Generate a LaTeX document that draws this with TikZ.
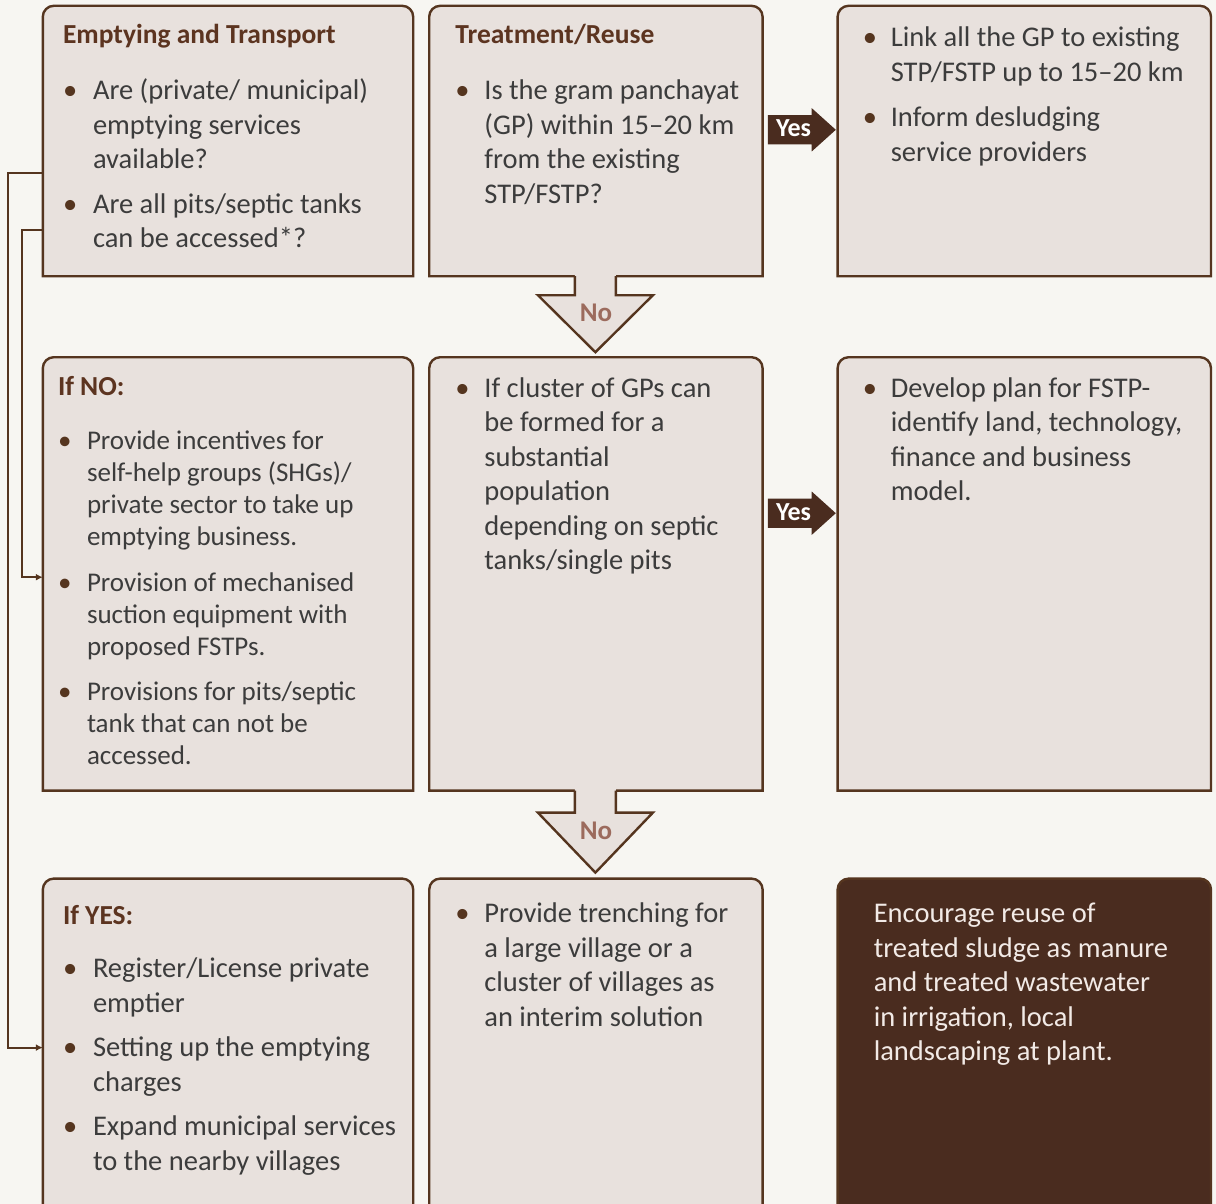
\documentclass[tikz,border=0pt]{standalone}
\usepackage{fontspec}
\setmainfont{Carlito}
\usepackage{xcolor}
\definecolor{PageBg}{HTML}{F7F6F2}
\definecolor{PanelFill}{HTML}{E8E1DD}
\definecolor{FrameBrown}{HTML}{55351F}
\definecolor{DarkBrown}{HTML}{4A2C1F}
\definecolor{TitleBrown}{HTML}{5C3420}
\definecolor{NoBrown}{HTML}{9C6B5D}
\definecolor{BodyGrey}{HTML}{3C3C3C}
\definecolor{PaleText}{HTML}{F2EAE6}
\usetikzlibrary{shapes.arrows, arrows.meta, positioning, calc}
\tikzset{
  % Panel styles
  panel/.style={rectangle, inner sep=0pt},
  panelline/.style={draw=FrameBrown, line width=2.4pt},
  % Text styles
  titletext/.style={anchor=base west, inner sep=0pt, text=TitleBrown, font=\bfseries\fontsize{27.5}{33}\selectfont},
  bodytext/.style={anchor=base west, inner sep=0pt, text=BodyGrey, font=\fontsize{28.5}{34.5}\selectfont},
  notext/.style={inner sep=0pt, text=NoBrown, font=\bfseries\fontsize{27}{27}\selectfont},
  % Arrow styles
  yesarrow/.style={single arrow, fill=DarkBrown, text=white, anchor=tail, font=\bfseries\fontsize{26}{26}\selectfont, minimum height=68pt, single arrow head extend=7pt, single arrow tip angle=84, inner xsep=3pt, inner ysep=4.5pt, text height=17pt, text depth=3pt},
  link/.style={draw=FrameBrown, line width=2pt}
}
\newcommand{\bpt}{\textcolor{FrameBrown}{\textbullet}}
% outline with rounded top corners only
\newcommand{\panelframe}[2][PanelFill]{%
  \draw[panelline, fill=#1] (#2.south west) [rounded corners=11pt] -- (#2.north west) -- (#2.north east) [sharp corners] -- (#2.south east) -- cycle;}
% block arrow hanging under a panel
\newcommand{\noarrow}[4]{%
  \coordinate (#2) at (#1.south);
  \fill[PanelFill] ([xshift=-21pt,yshift=2pt]#2) -- ++(0,-#3-2) -- ++(-37,0) -- ++(57.5,-#4) -- ++(57.5,#4) -- ++(-37,0) -- ++(0,#3+2) -- cycle;
  \draw[panelline, line join=miter] ([xshift=-21pt]#2) -- ++(0,-#3) -- ++(-37,0) -- ++(57.5,-#4) -- ++(57.5,#4) -- ++(-37,0) -- ++(0,#3);
  \node[notext] (#2-lbl) at ([yshift=-#3-18]#2) {No};}

\begin{document}
\begin{tikzpicture}[x=1pt, y=1pt]
  \useasboundingbox[fill=PageBg] (0,0) rectangle (1216,-1204);

  % Panels
  \node[panel, minimum width=370pt, minimum height=270pt] (et) at (228,-141) {};
  \node[panel, right=16pt of et, minimum width=333pt, minimum height=270pt] (tr) {};
  \node[panel, right=75pt of tr, minimum width=373pt, minimum height=270pt] (lk) {};
  \node[panel, below=81pt of et, minimum width=370pt, minimum height=433pt] (ifno) {};
  \node[panel, below=81pt of tr, minimum width=333pt, minimum height=433pt] (cl) {};
  \node[panel, below=81pt of lk, minimum width=373pt, minimum height=433pt] (pl) {};
  \node[panel, below=88pt of ifno, minimum width=370pt, minimum height=345pt] (ifyes) {};
  \node[panel, below=88pt of cl, minimum width=333pt, minimum height=345pt] (tc) {};
  \node[panel, below=88pt of pl, minimum width=373pt, minimum height=345pt] (ru) {};

  \panelframe{et}
  \panelframe{tr}
  \panelframe{lk}
  \panelframe{ifno}
  \panelframe{cl}
  \panelframe{pl}
  \panelframe{ifyes}
  \panelframe{tc}
  \panelframe[DarkBrown]{ru}

  % Texts
  \node[titletext] (et-t) at ([shift={(20,-37.5)}]et.north west) {Emptying and Transport};
  \node[bodytext] (et-b) at ([shift={(20,-94)}]et.north west) {\begin{tabular}[t]{@{}p{30pt}@{}l@{}}
    \bpt & Are (private/ municipal)\\ & emptying services\\ & available?\\[10pt]
    \bpt & Are all pits/septic tanks\\ & can be accessed*?
  \end{tabular}};

  \node[titletext] (tr-t) at ([shift={(26,-37.5)}]tr.north west) {Treatment/Reuse};
  \node[bodytext] (tr-b) at ([shift={(26,-94)}]tr.north west) {\begin{tabular}[t]{@{}p{29pt}@{}l@{}}
    \bpt & Is the gram panchayat\\ & (GP) within 15--20 km\\ & from the existing\\ & STP/FSTP?
  \end{tabular}};

  \node[bodytext] (lk-b) at ([shift={(25,-41)}]lk.north west) {\begin{tabular}[t]{@{}p{28pt}@{}l@{}}
    \bpt & Link all the GP to existing\\ & STP/FSTP up to 15--20 km\\[11pt]
    \bpt & Inform desludging\\ & service providers
  \end{tabular}};

  \node[titletext] (ifno-t) at ([shift={(15,-38.5)}]ifno.north west) {If NO:};
  \node[bodytext, font=\fontsize{27}{32}\selectfont] (ifno-b) at ([shift={(15,-92)}]ifno.north west) {\begin{tabular}[t]{@{}p{29pt}@{}l@{}}
    \bpt & Provide incentives for\\ & self-help groups (SHGs)/\\ & private sector to take up\\ & emptying business.\\[14pt]
    \bpt & Provision of mechanised\\ & suction equipment with\\ & proposed FSTPs.\\[13pt]
    \bpt & Provisions for pits/septic\\ & tank that can not be\\ & accessed.
  \end{tabular}};

  \node[bodytext] (cl-b) at ([shift={(26,-40)}]cl.north west) {\begin{tabular}[t]{@{}p{29pt}@{}l@{}}
    \bpt & If cluster of GPs can\\ & be formed for a\\ & substantial\\ & population\\ & depending on septic\\ & tanks/single pits
  \end{tabular}};

  \node[bodytext] (pl-b) at ([shift={(25,-40)}]pl.north west) {\begin{tabular}[t]{@{}p{28pt}@{}l@{}}
    \bpt & Develop plan for FSTP-\\ & identify land, technology,\\ & finance and business\\ & model.
  \end{tabular}};

  \node[titletext] (ifyes-t) at ([shift={(20,-45.5)}]ifyes.north west) {If YES:};
  \node[bodytext] (ifyes-b) at ([shift={(20,-99)}]ifyes.north west) {\begin{tabular}[t]{@{}p{30pt}@{}l@{}}
    \bpt & Register/License private\\ & emptier\\[10pt]
    \bpt & Setting up the emptying\\ & charges\\[10pt]
    \bpt & Expand municipal services\\ & to the nearby villages
  \end{tabular}};

  \node[bodytext] (tc-b) at ([shift={(26,-44)}]tc.north west) {\begin{tabular}[t]{@{}p{29pt}@{}l@{}}
    \bpt & Provide trenching for\\ & a large village or a\\ & cluster of villages as\\ & an interim solution
  \end{tabular}};

  \node[bodytext, text=PaleText] (ru-b) at ([shift={(36,-44)}]ru.north west) {\begin{tabular}[t]{@{}l@{}}
    Encourage reuse of\\ treated sludge as manure\\ and treated wastewater\\ in irrigation, local\\ landscaping at plant.
  \end{tabular}};

  % Yes / No arrows
  \node[yesarrow] (yes1) at ($(tr.north east)+(5,-124)$) {Yes};
  \node[yesarrow] (yes2) at ($(cl.north east)+(5,-156)$) {Yes};
  \noarrow{tr}{no1}{19}{57}
  \noarrow{cl}{no2}{22}{60}

  % Side connectors
  \coordinate (et-a) at ([yshift=-167pt]et.north west);
  \coordinate (et-c) at ([yshift=-224pt]et.north west);
  \coordinate (ifno-in) at ([yshift=-220pt]ifno.north west);
  \coordinate (ifyes-in) at ([yshift=-169pt]ifyes.north west);
  \draw[link, -{Latex[length=7pt,width=7pt]}] (et-a) -- ++(-35,0) |- (ifyes-in);
  \draw[link, -{Latex[length=7pt,width=7pt]}] (et-c) -- ++(-21,0) |- (ifno-in);
\end{tikzpicture}
\end{document}
